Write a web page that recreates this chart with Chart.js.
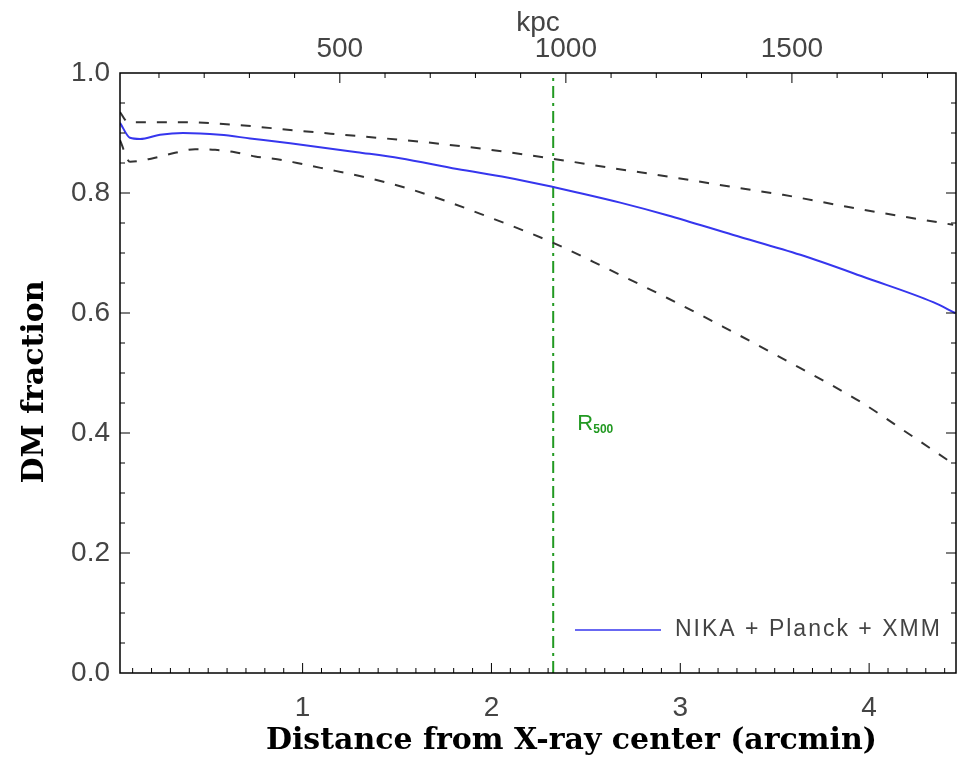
<!DOCTYPE html>
<html>
<head>
<meta charset="utf-8">
<title>DM fraction</title>
<script src="https://cdn.jsdelivr.net/npm/chart.js@4.4.1/dist/chart.umd.min.js"></script>
<style>
  html, body { margin: 0; padding: 0; background: #fff; }
</style>
</head>
<body>
<canvas id="dmFraction" width="957" height="758"></canvas>
<script>
// Dark matter fraction vs radius: best fit and envelope
const fitX = [0.033, 0.086, 0.139, 0.245, 0.367, 0.563, 0.722, 0.934, 1.289, 1.516, 1.818, 2.083, 2.327, 2.454, 2.682, 2.931, 3.281, 3.636, 3.990, 4.339, 4.456];
const fitY = [0.917, 0.892, 0.890, 0.897, 0.900, 0.897, 0.891, 0.883, 0.868, 0.858, 0.840, 0.826, 0.810, 0.801, 0.784, 0.763, 0.730, 0.697, 0.658, 0.618, 0.600];

const upperX = [0.033, 0.076, 0.367, 0.669, 0.934, 1.289, 1.638, 1.993, 2.327, 2.629, 2.984, 3.316, 3.544, 3.883, 4.233, 4.445];
const upperY = [0.935, 0.918, 0.918, 0.913, 0.905, 0.895, 0.885, 0.872, 0.857, 0.842, 0.825, 0.808, 0.797, 0.777, 0.758, 0.747];

const lowerX = [0.033, 0.086, 0.208, 0.325, 0.431, 0.537, 0.642, 0.748, 0.891, 0.971, 1.109, 1.320, 1.553, 1.765, 1.977, 2.189, 2.327, 2.613, 2.931, 3.227, 3.636, 3.954, 4.203, 4.429];
const lowerY = [0.888, 0.852, 0.858, 0.867, 0.873, 0.872, 0.868, 0.861, 0.855, 0.850, 0.841, 0.827, 0.808, 0.786, 0.761, 0.735, 0.717, 0.674, 0.625, 0.577, 0.508, 0.452, 0.400, 0.352];

const R500 = 2.327;            // arcmin
const KPC_PER_ARCMIN = 417.7;
const xRange = [0.033, 4.46];
const xTicks = [1, 2, 3, 4];
const kpcTicks = [500, 1000, 1500];
const yTicks = [0.0, 0.2, 0.4, 0.6, 0.8, 1.0];

const xTitle = 'Distance from X-ray center (arcmin)';
const yTitle = 'DM fraction';

const toPoints = (xs, ys) => xs.map((x, i) => ({ x: x, y: ys[i] }));
const setTicks = vals => scale => { scale.ticks = vals.map(v => ({ value: v })); };

const tickFont = { family: 'Liberation Sans', size: 28 };

// frame, inward tick marks, axis titles, legend and R500 label
const axisFrame = {
  id: 'axisFrame',
  afterDraw(chart) {
    const { ctx, chartArea: a, scales } = chart;
    ctx.save();
    ctx.strokeStyle = '#000';
    ctx.lineWidth = 1;
    ctx.beginPath();
    for (let i = 1; i < 45; i++) {
      const px = scales.x.getPixelForValue(i / 10);
      const len = i % 10 === 0 ? 10 : 5;
      ctx.moveTo(px, a.bottom); ctx.lineTo(px, a.bottom - len);
    }
    for (let k = 100; k < 1900; k += 100) {
      const px = scales.x2.getPixelForValue(k);
      if (px > a.right) break;
      const len = k % 500 === 0 ? 10 : 5;
      ctx.moveTo(px, a.top); ctx.lineTo(px, a.top + len);
    }
    for (let j = 1; j < 20; j++) {
      const py = scales.y.getPixelForValue(j * 0.05);
      const len = j % 4 === 0 ? 10 : 5;
      ctx.moveTo(a.left, py); ctx.lineTo(a.left + len, py);
      ctx.moveTo(a.right, py); ctx.lineTo(a.right - len, py);
    }
    ctx.stroke();
    ctx.lineWidth = 1.5;
    ctx.strokeRect(a.left, a.top, a.right - a.left, a.bottom - a.top);

    // axis titles
    ctx.fillStyle = '#000';
    ctx.font = 'bold 30px DejaVu Serif';
    ctx.textAlign = 'center';
    ctx.textBaseline = 'middle';
    ctx.fillText(xTitle, a.left + (a.right - a.left) * 0.54, a.bottom + 68);
    ctx.save();
    ctx.translate(35, a.top + (a.bottom - a.top) * 0.515);
    ctx.rotate(-Math.PI / 2);
    ctx.fillText(yTitle, 0, 0);
    ctx.restore();
    ctx.textAlign = 'left';

    // legend
    const fit = chart.data.datasets[0];
    const ly = a.bottom - 43;
    ctx.strokeStyle = fit.borderColor;
    ctx.lineWidth = 1.5;
    ctx.beginPath();
    ctx.moveTo(a.right - 381, ly); ctx.lineTo(a.right - 295, ly);
    ctx.stroke();
    ctx.fillStyle = '#444';
    ctx.font = '23px Liberation Sans';
    ctx.letterSpacing = '2px';
    ctx.fillText(fit.label, a.right - 281, ly);
    ctx.letterSpacing = '0px';

    // R500 marker label
    const rx = scales.x.getPixelForValue(R500) + 24;
    const ry = scales.y.getPixelForValue(0.405);
    ctx.fillStyle = '#229922';
    ctx.textBaseline = 'alphabetic';
    ctx.font = '22px Liberation Sans';
    ctx.fillText('R', rx, ry);
    ctx.font = 'bold 12px Liberation Sans';
    ctx.fillText('500', rx + 16, ry + 3);
    ctx.restore();
  }
};

new Chart(document.getElementById('dmFraction'), {
  type: 'line',
  data: {
    datasets: [
      {
        label: 'NIKA + Planck + XMM',
        data: toPoints(fitX, fitY),
        borderColor: '#3636ee',
        borderWidth: 2,
        pointRadius: 0,
        cubicInterpolationMode: 'monotone'
      },
      {
        label: 'upper',
        data: toPoints(upperX, upperY),
        borderColor: '#333',
        borderWidth: 2,
        borderDash: [10, 11],
        pointRadius: 0,
        cubicInterpolationMode: 'monotone'
      },
      {
        label: 'lower',
        data: toPoints(lowerX, lowerY),
        borderColor: '#333',
        borderWidth: 2,
        borderDash: [10, 11],
        pointRadius: 0,
        cubicInterpolationMode: 'monotone'
      },
      {
        label: 'R500',
        data: [{ x: R500, y: 0 }, { x: R500, y: 1 }],
        borderColor: '#229922',
        borderWidth: 2,
        borderDash: [12, 5, 3, 5],
        pointRadius: 0
      }
    ]
  },
  options: {
    responsive: false,
    animation: false,
    layout: { padding: { left: 0, right: 1, top: 0, bottom: 0 } },
    plugins: {
      legend: { display: false },
      tooltip: { enabled: false }
    },
    scales: {
      x: {
        type: 'linear',
        position: 'bottom',
        min: xRange[0],
        max: xRange[1],
        afterBuildTicks: setTicks(xTicks),
        afterFit: s => { s.height = 85; },
        grid: { display: false, drawTicks: false },
        border: { display: false },
        ticks: { font: tickFont, color: '#444', padding: 18, autoSkip: false, maxRotation: 0 }
      },
      x2: {
        type: 'linear',
        position: 'top',
        min: xRange[0] * KPC_PER_ARCMIN,
        max: xRange[1] * KPC_PER_ARCMIN,
        afterBuildTicks: setTicks(kpcTicks),
        afterFit: s => { s.height = 73; },
        grid: { display: false, drawTicks: false },
        border: { display: false },
        ticks: {
          font: tickFont,
          color: '#444',
          padding: 7,
          autoSkip: false,
          maxRotation: 0,
          callback: v => String(v)
        },
        title: {
          display: true,
          text: 'kpc',
          font: tickFont,
          color: '#444',
          padding: { top: 6, bottom: 0 }
        }
      },
      y: {
        type: 'linear',
        min: 0,
        max: 1,
        afterBuildTicks: setTicks(yTicks),
        afterFit: s => { s.width = 120; },
        grid: { display: false, drawTicks: false },
        border: { display: false },
        ticks: {
          font: tickFont,
          color: '#444',
          padding: 10,
          autoSkip: false,
          callback: v => v.toFixed(1)
        }
      }
    }
  },
  plugins: [axisFrame]
});
</script>
</body>
</html>
